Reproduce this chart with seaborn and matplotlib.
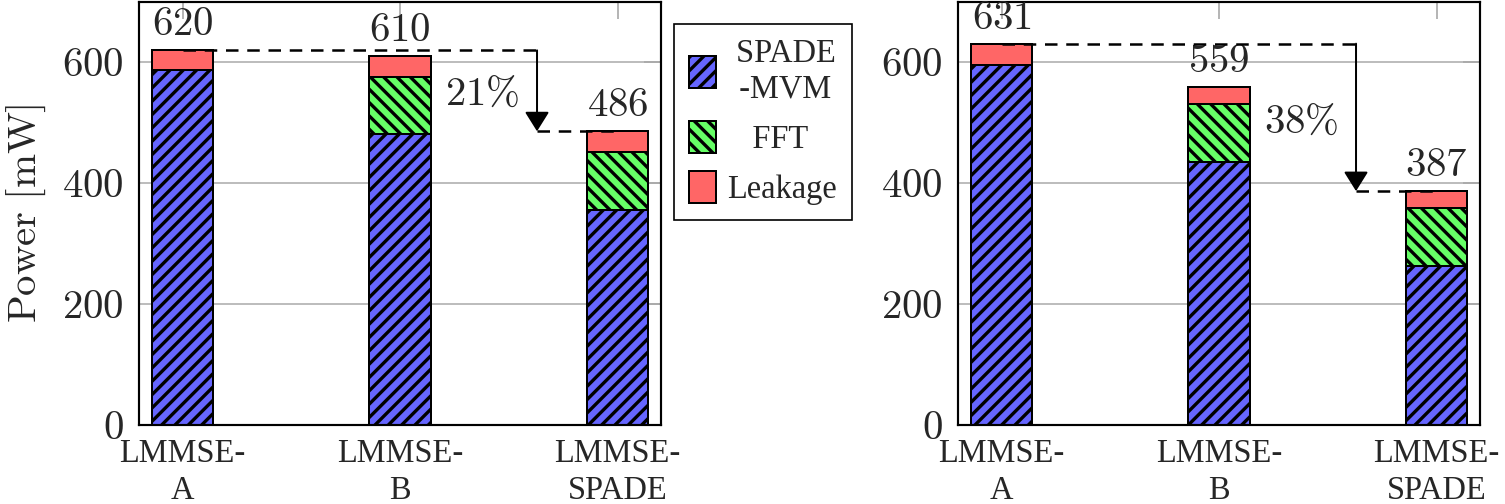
import matplotlib
matplotlib.use('Agg')
import matplotlib.pyplot as plt
from matplotlib.patches import Patch
from matplotlib.ticker import FuncFormatter
import seaborn as sns
import pandas as pd

# data
methods = ['LMMSE-\nA', 'LMMSE-\nB', 'LMMSE-\nSPADE']
mvm_left = [587, 481, 356]
fft_left = [0, 95, 96]
leak_left = [33, 34, 34]
mvm_right = [596, 435, 263]
fft_right = [0, 96, 96]
leak_right = [35, 28, 28]
saving_labels = ['21\\%', '38\\%']
legend_labels = [' SPADE\n -MVM', '   FFT', 'Leakage']
y_ticks = [0, 200, 400, 600]

blue = '#6666ff'
green = '#66ff66'
red = '#ff6666'

DPI = 120
sns.set_theme(style='white')
plt.rcParams['font.family'] = ['Liberation Serif', 'DejaVu Serif']
plt.rcParams['mathtext.fontset'] = 'cm'
plt.rcParams['hatch.linewidth'] = 2.0
plt.rcParams['axes.axisbelow'] = True

fig = plt.figure(figsize=(1505 / DPI, 504 / DPI), dpi=DPI)
ax_l = fig.add_axes([139 / 1505, 79 / 504, 522 / 1505, 423 / 504])
ax_r = fig.add_axes([958 / 1505, 79 / 504, 522 / 1505, 423 / 504])

big = 24.5
small = 19.5
dash = (0, (5, 3.5))
hatch_mvm = '///'
hatch_fft = '\\\\\\'


def panel(ax, mvm, fft, leak, saving, pct_y):
    df = pd.DataFrame({'method': methods, 'mvm': mvm, 'fft': fft, 'leak': leak})
    df['mvm_fft'] = df['mvm'] + df['fft']
    df['total'] = df['mvm_fft'] + df['leak']

    common = dict(width=0.285, saturation=1, edgecolor='black', linewidth=1.2,
                  errorbar=None, ax=ax)
    sns.barplot(data=df, x='method', y='total', color=red, **common)
    sns.barplot(data=df, x='method', y='mvm_fft', color=green, hatch=hatch_fft, **common)
    sns.barplot(data=df, x='method', y='mvm', color=blue, hatch=hatch_mvm, **common)

    tot = df['total'].tolist()
    for i, t in enumerate(tot):
        ax.annotate(f'${t}$', (i, t), xytext=(0, 9), textcoords='offset points',
                    ha='center', va='baseline', fontsize=big)

    # reduction arrow from first to last bar
    xa = 1.63
    ax.plot([0, xa], [tot[0], tot[0]], color='black', lw=1.5, ls=dash, zorder=4)
    ax.plot([xa, 2], [tot[2], tot[2]], color='black', lw=1.5, ls=dash, zorder=4)
    ax.annotate('', xy=(xa, tot[2]), xytext=(xa, tot[0]),
                arrowprops=dict(arrowstyle='-|>,head_length=0.4,head_width=0.25',
                                mutation_scale=25, lw=1.2, color='black',
                                shrinkA=0, shrinkB=0), zorder=4)
    ax.text(1.38, pct_y, f'${saving}$', ha='center', va='baseline', fontsize=big)

    ax.set_xlim(-0.2, 2.2)
    ax.set_ylim(0, 700)
    ax.set_yticks(y_ticks)
    ax.yaxis.set_major_formatter(FuncFormatter(lambda v, p: f'${v:.0f}$'))
    ax.set_xlabel('')
    ax.set_ylabel('')
    ax.yaxis.grid(True, color='#bdbdbd', lw=1.2)
    ax.xaxis.grid(False)
    for s in ax.spines.values():
        s.set_color('black')
        s.set_linewidth(1.3)
    ax.tick_params(axis='both', direction='in', length=10, width=1.0,
                   color='#a8a8a8', top=True, right=True)
    ax.tick_params(axis='x', labelsize=small, pad=8)
    ax.tick_params(axis='y', labelsize=big, pad=9)
    for lbl in ax.get_xticklabels():
        lbl.set_linespacing(1.3)


panel(ax_l, mvm_left, fft_left, leak_left, saving_labels[0], 530)
panel(ax_r, mvm_right, fft_right, leak_right, saving_labels[1], 483)

ax_l.set_ylabel(r'$\mathrm{Power\ [mW]}$', fontsize=big)
ax_l.yaxis.set_label_coords(-0.175, 0.5)

handles = [
    Patch(facecolor=blue, edgecolor='black', hatch=hatch_mvm, lw=1.2),
    Patch(facecolor=green, edgecolor='black', hatch=hatch_fft, lw=1.2),
    Patch(facecolor=red, edgecolor='black', lw=1.2),
]
leg = fig.legend(handles, legend_labels, loc='upper left',
                 bbox_to_anchor=(674 / 1505, 1 - 24 / 504),
                 bbox_transform=fig.transFigure, frameon=True, fancybox=False,
                 edgecolor='black', framealpha=1, fontsize=small,
                 handlelength=0.85, handleheight=1.15, handletextpad=0.35,
                 borderpad=0.45, labelspacing=0.5, borderaxespad=0)
leg.get_frame().set_linewidth(1.0)
for t in leg.get_texts():
    t.set_multialignment('center')

fig.savefig('out.png', dpi=DPI)
